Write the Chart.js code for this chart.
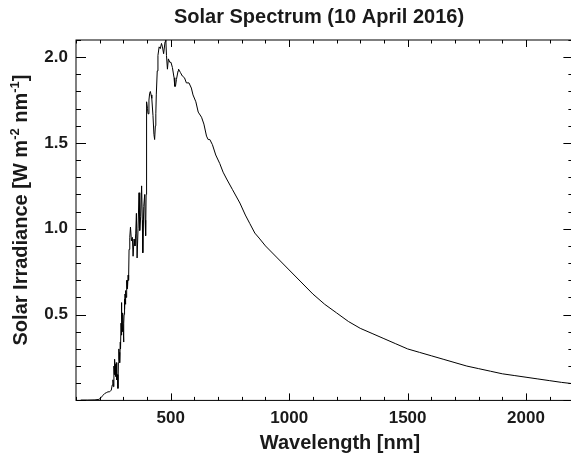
<!DOCTYPE html>
<html>
<head>
<meta charset="utf-8">
<script src="https://cdn.jsdelivr.net/npm/chart.js@4.4.0/dist/chart.umd.min.js"></script>
<style>
  html, body { margin: 0; padding: 0; background: #fff; overflow: hidden; }
  #wrap { width: 571px; height: 459px; overflow: hidden; }
</style>
</head>
<body>
<div id="wrap"><canvas id="spectrum" width="575" height="459"></canvas></div>
<script>
// spectrum samples, nm and W m-2 nm-1
const wavelength = [
  120, 150, 180, 197, 205, 214, 221, 228, 235, 242, 249, 253, 256, 258, 260, 262, 263, 265, 266, 268,
  270, 271, 273, 275, 277, 279, 281, 282, 284, 285, 287, 288, 290, 291, 292, 293, 294, 295, 296, 297,
  298, 299, 301, 302, 303, 304, 305, 306, 307, 308, 309, 310, 311, 312, 313, 314, 315, 316, 317, 318,
  320, 322, 324, 327, 330, 334, 338, 341, 345, 349, 352, 355, 358, 362, 366, 369, 373, 377, 380, 382,
  386, 390, 392, 394, 396, 397, 399, 402, 404, 408, 411, 414, 417, 420, 425, 429, 432, 435, 437, 439,
  443, 446, 451, 456, 461, 465, 470, 476, 479, 482, 486, 490, 496, 501, 507, 514, 517, 520, 524, 531,
  533, 541, 549, 558, 566, 577, 587, 594, 606, 616, 630, 640, 651, 658, 665, 676, 690, 707, 721, 736,
  760, 792, 815, 834, 855, 873, 900, 950, 1000, 1050, 1100, 1150, 1200, 1250, 1300, 1350, 1400, 1450, 1500, 1550,
  1600, 1650, 1700, 1750, 1800, 1850, 1900, 1950, 2000, 2050, 2100, 2150, 2200
];
const irradiance = [
  0.002, 0.002, 0.003, 0.006, 0.015, 0.03, 0.04, 0.045, 0.05, 0.05, 0.06, 0.09, 0.12, 0.08, 0.20, 0.15, 0.24, 0.17, 0.21, 0.14,
  0.22, 0.17, 0.12, 0.15, 0.07, 0.22, 0.30, 0.24, 0.28, 0.22, 0.34, 0.30, 0.45, 0.38, 0.57, 0.46, 0.50, 0.44, 0.47, 0.40,
  0.51, 0.44, 0.34, 0.45, 0.50, 0.55, 0.59, 0.53, 0.62, 0.56, 0.63, 0.58, 0.64, 0.60, 0.67, 0.62, 0.70, 0.65, 0.70, 0.66,
  0.73, 0.70, 0.88, 0.95, 1.01, 0.93, 0.95, 0.84, 0.94, 0.90, 0.97, 1.09, 0.83, 1.00, 1.21, 0.99, 1.07, 1.25, 1.05, 0.86,
  1.13, 1.20, 1.05, 0.96, 1.20, 1.29, 1.74, 1.70, 1.67, 1.75, 1.79, 1.80, 1.78, 1.76, 1.66, 1.55, 1.52, 1.60, 1.67, 1.78,
  1.92, 2.01, 2.06, 2.05, 2.08, 2.06, 2.02, 2.09, 2.11, 2.01, 1.93, 1.99, 1.97, 1.97, 1.94, 1.88, 1.83, 1.83, 1.87, 1.92,
  1.93, 1.91, 1.89, 1.88, 1.85, 1.85, 1.82, 1.78, 1.74, 1.68, 1.65, 1.61, 1.54, 1.52, 1.52, 1.49, 1.43, 1.38, 1.33, 1.29,
  1.23, 1.15, 1.08, 1.03, 0.975, 0.946, 0.90, 0.83, 0.76, 0.69, 0.62, 0.56, 0.51, 0.46, 0.42, 0.39, 0.36, 0.33, 0.30, 0.28,
  0.26, 0.24, 0.22, 0.20, 0.185, 0.17, 0.155, 0.145, 0.135, 0.125, 0.115, 0.105, 0.097
];
const xTickLabels = [500, 1000, 1500, 2000];
const yTickLabels = [0.5, 1.0, 1.5, 2.0];

const FONT = "'Liberation Sans', Arial, Helvetica, sans-serif";
Chart.defaults.font.family = FONT;
Chart.defaults.font.weight = 'bold';
Chart.defaults.color = '#000';

// box with inward ticks on all four sides, plus titles
const frame = {
  id: 'frame',
  afterDatasetsDraw(chart) {
    const { ctx, chartArea: a, scales: { x, y } } = chart;
    ctx.save();
    ctx.strokeStyle = '#000';
    ctx.lineWidth = 1;
    ctx.strokeRect(a.left, a.top, a.right - a.left, a.bottom - a.top);
    ctx.beginPath();
    for (let w = 100; w <= 2200; w += 100) {
      const px = Math.round(x.getPixelForValue(w)) + 0.5;
      const len = w % 500 === 0 ? 7 : 3.5;
      ctx.moveTo(px, a.bottom); ctx.lineTo(px, a.bottom - len);
      ctx.moveTo(px, a.top); ctx.lineTo(px, a.top + len);
    }
    for (let i = 0; i <= 21; i++) {
      const py = Math.round(y.getPixelForValue(i / 10)) + 0.5;
      const len = i % 5 === 0 ? 10 : 5;
      ctx.moveTo(a.left, py); ctx.lineTo(a.left + len, py);
      ctx.moveTo(a.right, py); ctx.lineTo(a.right - len, py);
    }
    ctx.stroke();

    ctx.fillStyle = '#1a1a1a';
    ctx.textAlign = 'center';
    ctx.textBaseline = 'middle';
    ctx.font = 'bold 20px ' + FONT;
    ctx.fillText('Solar Spectrum (10 April 2016)', 319, 17);
    ctx.fillText('Wavelength [nm]', 340, 443);

    // y title with superscripts, rotated
    const parts = [
      ['Solar Irradiance [W m', 20, 0],
      ['-2', 13, -8],
      [' nm', 20, 0],
      ['-1', 13, -8],
      [']', 20, 0]
    ];
    let total = 0;
    parts.forEach(p => { ctx.font = 'bold ' + p[1] + 'px ' + FONT; total += ctx.measureText(p[0]).width; });
    ctx.translate(27, 210);
    ctx.rotate(-Math.PI / 2);
    ctx.textAlign = 'left';
    ctx.textBaseline = 'alphabetic';
    let cx = -total / 2;
    parts.forEach(p => {
      ctx.font = 'bold ' + p[1] + 'px ' + FONT;
      ctx.fillText(p[0], cx, p[2]);
      cx += ctx.measureText(p[0]).width;
    });
    ctx.restore();
  }
};

new Chart(document.getElementById('spectrum').getContext('2d'), {
  type: 'scatter',
  data: {
    datasets: [{
      data: wavelength.map((w, i) => ({ x: w, y: irradiance[i] })),
      showLine: true,
      borderColor: '#000',
      borderWidth: 1,
      pointRadius: 0,
      tension: 0
    }]
  },
  options: {
    responsive: false,
    animation: false,
    layout: { padding: { top: 40, right: 1.6, left: 0, bottom: 0 } },
    plugins: { legend: { display: false }, tooltip: { enabled: false }, title: { display: false } },
    scales: {
      x: {
        type: 'linear',
        min: 100,
        max: 2200,
        grid: { display: false, drawTicks: false },
        border: { display: false },
        afterBuildTicks: s => { s.ticks = xTickLabels.map(v => ({ value: v })); },
        afterFit: s => { s.height = 58.6; },
        ticks: { padding: 8, font: { size: 17, weight: 'bold' }, color: '#1a1a1a', maxRotation: 0, callback: v => String(v) }
      },
      y: {
        min: 0,
        max: 2.1,
        grid: { display: false, drawTicks: false },
        border: { display: false },
        afterBuildTicks: s => { s.ticks = yTickLabels.map(v => ({ value: v })); },
        afterFit: s => { s.width = 76; },
        ticks: { padding: 8, font: { size: 17, weight: 'bold' }, color: '#1a1a1a', callback: v => v.toFixed(1) }
      }
    }
  },
  plugins: [frame]
});
</script>
</body>
</html>
